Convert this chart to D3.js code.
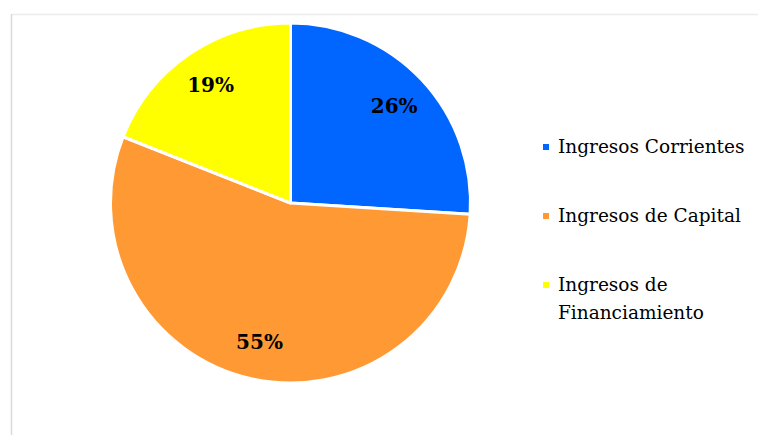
<!DOCTYPE html>
<html>
<head>
<meta charset="utf-8">
<script src="https://cdn.jsdelivr.net/npm/d3@7/dist/d3.min.js"></script>
<style>
  html, body { margin: 0; padding: 0; background: #fff; }
  svg { display: block; }
  text { font-family: "DejaVu Serif", "Liberation Serif", serif; }
</style>
</head>
<body>
<svg id="chart" width="758" height="435"></svg>
<script>
// Income sources (share of total, %)
const categories = ["Ingresos Corrientes", "Ingresos de Capital", "Ingresos de Financiamiento"];
const values = [26, 55, 19];
const labels = ["26%", "55%", "19%"];
const legendLines = [["Ingresos Corrientes"], ["Ingresos de Capital"], ["Ingresos de", "Financiamiento"]];
const colors = ["#0066FF", "#FF9933", "#FFFF00"];

const svg = d3.select("#chart");
const W = 758, H = 435;

// frame lines
svg.append("line").attr("x1", 11).attr("x2", W).attr("y1", 14.5).attr("y2", 14.5)
  .attr("stroke", "#ececec").attr("stroke-width", 1.5);
svg.append("line").attr("x1", 11.5).attr("x2", 11.5).attr("y1", 14).attr("y2", H)
  .attr("stroke", "#d9d9d9").attr("stroke-width", 1.5);

const cx = 290.5, cy = 203, r = 180;
const g = svg.append("g").attr("transform", `translate(${cx},${cy})`);

const pie = d3.pie().sort(null).value(d => d);
const arcs = pie(values);
const arc = d3.arc().innerRadius(0).outerRadius(r);
const labelArc = d3.arc().innerRadius(r * 0.79).outerRadius(r * 0.79);

g.selectAll("path.slice").data(arcs).join("path")
  .attr("class", "slice")
  .attr("d", arc)
  .attr("fill", (d, i) => colors[i])
  .attr("stroke", "#fff")
  .attr("stroke-width", 3)
  .attr("stroke-linejoin", "round");

g.selectAll("text.lbl").data(arcs).join("text")
  .attr("class", "lbl")
  .attr("transform", d => { const [x, y] = labelArc.centroid(d); return `translate(${x},${y})`; })
  .attr("text-anchor", "middle")
  .attr("dy", "0.35em")
  .style("font-weight", "bold")
  .style("font-size", "20px")
  .attr("fill", "#000")
  .text((d, i) => labels[i]);

// legend
const legendY = d3.scalePoint().domain(categories).range([147, 285]);
const lg = svg.append("g");
categories.forEach((c, i) => {
  const y = legendY(c);
  lg.append("rect").attr("x", 543).attr("y", y - 3).attr("width", 6).attr("height", 6)
    .attr("fill", colors[i]);
  const t = lg.append("text")
    .attr("x", 558).attr("y", y)
    .style("font-size", "18.5px")
    .attr("fill", "#000");
  legendLines[i].forEach((line, j) => {
    t.append("tspan").attr("x", 558).attr("dy", j === 0 ? "0.35em" : 28).text(line);
  });
});
</script>
</body>
</html>
